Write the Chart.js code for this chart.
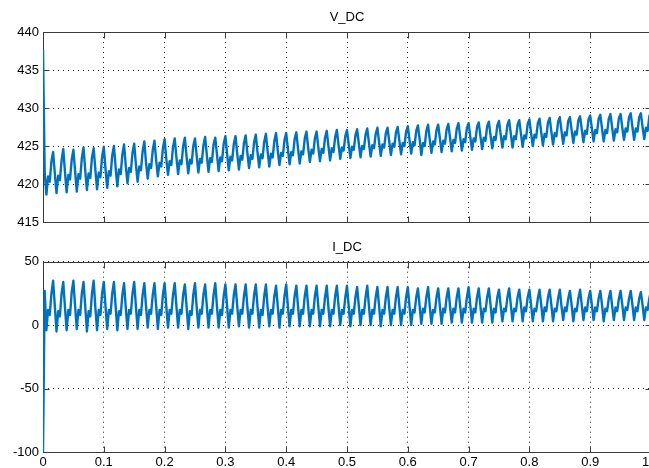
<!DOCTYPE html>
<html>
<head>
<meta charset="utf-8">
<script src="https://cdn.jsdelivr.net/npm/chart.js@4.4.1/dist/chart.umd.min.js"></script>
<style>
  html, body { margin: 0; padding: 0; background: #fff; }
  body { width: 649px; height: 468px; overflow: hidden; position: relative; }
  canvas { position: absolute; left: 0; }
  #vdc { top: 0; }
  #idc { top: 230px; }
</style>
</head>
<body>
<canvas id="vdc" width="686" height="240"></canvas>
<canvas id="idc" width="686" height="238"></canvas>
<script>
// scope samples, 360 per second (6 per 60 Hz cycle), first samples = start transient
const SAMPLES_PER_SEC = 360;

const vdc = [
  437.7, 421.5,
  418.6, 421.0, 420.3, 423.0, 424.2, 421.4,
  418.8, 421.1, 420.5, 423.1, 424.6, 421.6,
  418.9, 421.2, 420.6, 423.2, 424.5, 421.7,
  419.0, 421.3, 420.7, 423.4, 424.8, 421.8,
  419.2, 421.4, 420.8, 423.5, 424.7, 421.9,
  419.3, 421.5, 420.9, 423.6, 424.9, 422.0,
  419.5, 421.7, 421.1, 423.8, 425.0, 422.2,
  419.7, 421.9, 421.3, 423.9, 425.2, 422.4,
  420.1, 422.1, 421.6, 424.1, 425.3, 422.6,
  420.3, 422.3, 421.8, 424.3, 425.6, 422.8,
  420.7, 422.6, 422.1, 424.5, 425.7, 423.1,
  421.0, 422.8, 422.3, 424.7, 425.9, 423.3,
  421.2, 423.0, 422.5, 424.9, 426.0, 423.5,
  421.3, 423.1, 422.6, 425.0, 426.1, 423.6,
  421.4, 423.2, 422.7, 425.0, 426.0, 423.7,
  421.5, 423.3, 422.8, 425.1, 426.2, 423.8,
  421.6, 423.4, 422.9, 425.2, 426.1, 423.9,
  421.7, 423.5, 423.0, 425.3, 426.3, 424.0,
  421.8, 423.6, 423.1, 425.3, 426.3, 424.0,
  421.9, 423.7, 423.2, 425.4, 426.4, 424.1,
  422.1, 423.8, 423.3, 425.5, 426.5, 424.2,
  422.2, 423.9, 423.4, 425.6, 426.6, 424.3,
  422.3, 424.0, 423.5, 425.7, 426.7, 424.4,
  422.5, 424.1, 423.7, 425.8, 426.7, 424.6,
  422.6, 424.2, 423.8, 425.9, 426.8, 424.7,
  422.7, 424.3, 423.9, 426.0, 426.9, 424.8,
  422.9, 424.5, 424.0, 426.0, 426.9, 424.9,
  423.0, 424.6, 424.1, 426.1, 427.0, 425.0,
  423.1, 424.7, 424.2, 426.2, 427.1, 425.1,
  423.3, 424.8, 424.4, 426.3, 427.1, 425.2,
  423.4, 424.9, 424.5, 426.4, 427.2, 425.3,
  423.5, 425.0, 424.6, 426.5, 427.3, 425.4,
  423.6, 425.1, 424.7, 426.6, 427.4, 425.5,
  423.7, 425.2, 424.8, 426.7, 427.4, 425.6,
  423.8, 425.3, 424.9, 426.8, 427.5, 425.7,
  423.9, 425.4, 425.0, 426.9, 427.6, 425.8,
  424.0, 425.5, 425.1, 427.0, 427.7, 425.9,
  423.8, 425.4, 425.0, 427.0, 427.8, 425.8,
  424.1, 425.6, 425.2, 427.1, 427.8, 426.0,
  424.2, 425.7, 425.3, 427.2, 427.9, 426.1,
  424.3, 425.8, 425.4, 427.3, 428.0, 426.2,
  424.4, 425.9, 425.5, 427.4, 428.0, 426.2,
  424.5, 426.0, 425.6, 427.5, 428.1, 426.3,
  424.6, 426.1, 425.7, 427.6, 428.2, 426.4,
  424.7, 426.2, 425.8, 427.7, 428.3, 426.5,
  424.8, 426.3, 425.9, 427.8, 428.4, 426.6,
  424.8, 426.3, 425.9, 427.8, 428.4, 426.6,
  424.9, 426.4, 426.0, 427.9, 428.5, 426.7,
  425.0, 426.5, 426.1, 428.0, 428.6, 426.8,
  425.1, 426.6, 426.2, 428.1, 428.7, 426.9,
  425.2, 426.7, 426.3, 428.2, 428.8, 427.0,
  425.3, 426.8, 426.4, 428.3, 428.8, 427.1,
  425.4, 426.9, 426.5, 428.4, 428.9, 427.2,
  425.5, 427.0, 426.6, 428.5, 429.0, 427.3,
  425.6, 427.1, 426.7, 428.6, 429.1, 427.3,
  425.6, 427.1, 426.7, 428.6, 429.2, 427.4,
  425.7, 427.2, 426.8, 428.7, 429.2, 427.4,
  425.8, 427.3, 426.9, 428.8, 429.3, 427.5,
  425.8, 427.3, 426.9, 428.8, 429.3, 427.5,
  425.9, 427.4, 427.0, 428.9, 429.4, 427.6
];

const idc = [
  -100, 27,
  -4, 12, 8, 25, 35, 15,
  -5, 11, 7, 25, 34, 14,
  -4, 12, 8, 26, 35, 15,
  -3, 12, 8, 25, 34, 15,
  -5, 11, 7, 25, 35, 14,
  -4, 12, 8, 25, 34, 15,
  -3, 12, 9, 25, 34, 15,
  -4, 11, 8, 24, 33, 14,
  -3, 12, 9, 25, 34, 15,
  -3, 12, 8, 24, 33, 15,
  -2, 12, 9, 24, 33, 15,
  -3, 12, 8, 24, 33, 15,
  -2, 12, 9, 24, 33, 15,
  -2, 12, 9, 24, 32, 15,
  -3, 11, 8, 24, 33, 14,
  -2, 12, 9, 24, 32, 15,
  -2, 12, 9, 24, 33, 15,
  -2, 12, 8, 23, 32, 15,
  -2, 12, 9, 24, 32, 15,
  -1, 12, 9, 23, 32, 15,
  -2, 12, 9, 24, 32, 15,
  -2, 12, 8, 23, 32, 14,
  -1, 12, 9, 23, 31, 15,
  -2, 12, 9, 23, 32, 15,
  -1, 12, 9, 23, 31, 15,
  -1, 12, 9, 23, 31, 15,
  -1, 12, 9, 23, 31, 15,
  -1, 12, 9, 22, 31, 14,
  -1, 12, 9, 23, 31, 15,
   0, 12, 9, 22, 31, 15,
  -1, 12, 9, 22, 30, 15,
   0, 12, 9, 22, 31, 15,
   0, 12, 9, 22, 30, 15,
  -1, 12, 9, 22, 30, 14,
   0, 12, 9, 22, 30, 15,
   0, 12, 9, 22, 30, 15,
   0, 12, 10, 22, 29, 15,
   1, 13, 10, 22, 30, 15,
   1, 12, 10, 22, 29, 15,
   1, 13, 10, 22, 29, 15,
   2, 13, 10, 22, 29, 15,
   2, 13, 10, 22, 30, 16,
   2, 13, 10, 22, 29, 15,
   2, 13, 11, 22, 29, 16,
   2, 13, 10, 22, 28, 15,
   3, 13, 11, 22, 29, 16,
   3, 13, 11, 22, 28, 16,
   3, 14, 11, 22, 28, 16,
   3, 13, 11, 21, 28, 16,
   3, 14, 11, 22, 28, 16,
   3, 13, 11, 21, 28, 15,
   4, 14, 11, 21, 27, 16,
   3, 13, 11, 21, 28, 16,
   4, 14, 11, 21, 27, 16,
   4, 14, 11, 21, 27, 16,
   3, 13, 11, 21, 27, 15,
   4, 14, 11, 21, 27, 16,
   4, 14, 12, 21, 27, 16,
   4, 14, 11, 21, 26, 16,
   4, 14, 12, 21, 27, 16
];

const xTicks = { min: 0, max: 1, step: 0.1 };
const vTicks = { min: 415, max: 440, step: 5 };
const iTicks = { min: -100, max: 50, step: 50 };

const LINE = '#0072BD';
const FONT = { family: '"Liberation Sans", Arial, sans-serif', size: 13 };

// MATLAB-like box with inward ticks on all four sides
const boxPlugin = {
  id: 'matlabBox',
  beforeDatasetsDraw(chart) {
    const { ctx, chartArea: a, scales } = chart;
    const L = Math.round(a.left) + 0.5, R = Math.round(a.right) + 0.5;
    const T = Math.round(a.top) + 0.5, B = Math.round(a.bottom) + 0.5;
    ctx.save();
    ctx.strokeStyle = '#3a3a3a';
    ctx.lineWidth = 1;
    ctx.setLineDash([]);
    ctx.strokeRect(L, T, R - L, B - T);
    ctx.beginPath();
    scales.x.ticks.forEach(t => {
      const px = Math.round(scales.x.getPixelForValue(t.value)) + 0.5;
      ctx.moveTo(px, T); ctx.lineTo(px, T + 6);
      ctx.moveTo(px, B); ctx.lineTo(px, B - 6);
    });
    scales.y.ticks.forEach(t => {
      const py = Math.round(scales.y.getPixelForValue(t.value)) + 0.5;
      ctx.moveTo(L, py); ctx.lineTo(L + 6, py);
      ctx.moveTo(R, py); ctx.lineTo(R - 6, py);
    });
    ctx.stroke();
    ctx.restore();
  }
};

// title centred over the axes box, like the scope window
const titlePlugin = {
  id: 'scopeTitle',
  afterDraw(chart, args, opts) {
    const { ctx, chartArea: a } = chart;
    ctx.save();
    ctx.fillStyle = '#000';
    ctx.font = FONT.size + 'px ' + FONT.family;
    ctx.textAlign = 'center';
    ctx.textBaseline = 'middle';
    ctx.fillText(opts.text, (a.left + a.right) / 2, opts.y);
    ctx.restore();
  }
};

function makeScope(id, title, values, yt, showX, pad) {
  const pts = values.map((v, i) => ({ x: i / SAMPLES_PER_SEC, y: v }));
  return new Chart(document.getElementById(id), {
    type: 'line',
    data: { datasets: [{ data: pts, borderColor: LINE, borderWidth: 2.4, borderJoinStyle: 'round', pointRadius: 0, tension: 0, fill: false }] },
    options: {
      responsive: false,
      animation: false,
      devicePixelRatio: 1,
      layout: { padding: pad },
      plugins: {
        legend: { display: false },
        tooltip: { enabled: false },
        title: { display: false },
        scopeTitle: { text: title, y: 17 }
      },
      scales: {
        x: {
          type: 'linear', min: xTicks.min, max: xTicks.max,
          ticks: { display: showX, stepSize: xTicks.step, color: '#000', font: FONT, padding: 3, maxRotation: 0, autoSkip: false },
          grid: { color: '#222', drawTicks: false },
          border: { display: false, dash: [1, 4] },
          afterFit: s => { s.height = showX ? 16 : 0; }
        },
        y: {
          min: yt.min, max: yt.max,
          ticks: { stepSize: yt.step, color: '#000', font: FONT, padding: 4 },
          grid: { color: '#222', drawTicks: false },
          border: { display: false, dash: [1, 4] },
          afterFit: s => { s.width = 43; }
        }
      }
    },
    plugins: [boxPlugin, titlePlugin]
  });
}

makeScope('vdc', 'V_DC', vdc, vTicks, false, { left: 0, right: 35, top: 32, bottom: 18 });
makeScope('idc', 'I_DC', idc, iTicks, true, { left: 0, right: 35, top: 31.7, bottom: 0 });
</script>
</body>
</html>
